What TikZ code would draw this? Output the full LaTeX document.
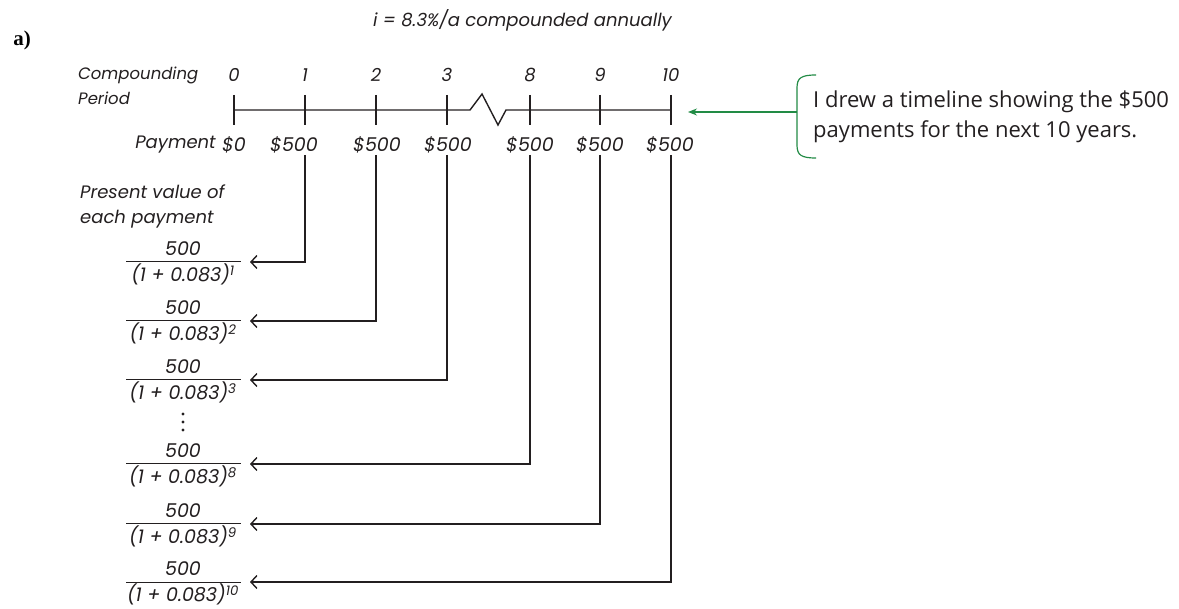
\documentclass[tikz,border=0pt]{standalone}
\usepackage{fontspec}
\setmainfont{Open Sans}
\newfontfamily\hand{Poppins}
\newfontfamily\labelfont{Liberation Serif}
\usetikzlibrary{arrows.meta}
\definecolor{ink}{RGB}{35,31,32}
\definecolor{notegreen}{RGB}{34,139,69}
\tikzset{
  hw/.style={font=\hand\itshape\fontsize{18}{20}\selectfont, text=ink, inner sep=0pt},
  hwsmall/.style={font=\hand\itshape\fontsize{16.5}{19}\selectfont, text=ink, inner sep=0pt},
  hwbig/.style={font=\hand\itshape\fontsize{19}{22}\selectfont, text=ink, inner sep=0pt},
  note/.style={font=\fontsize{22}{30}\selectfont, text=ink, inner sep=0pt, align=left},
  axis/.style={draw=ink, line width=1.4pt},
  link/.style={draw=ink, line width=1.4pt, -{Straight Barb[length=6pt,width=13pt,line width=1.4pt]}},
  bar/.style={draw=ink, line width=1pt},
  callout/.style={draw=notegreen, line width=1.2pt},
}
\begin{document}
\begin{tikzpicture}[x=1pt,y=-1pt]
\useasboundingbox (0,0) rectangle (1179,609);

% part label and rate
\node[font=\labelfont\bfseries\fontsize{21}{24}\selectfont, inner sep=0pt] (part) at (22,40) {a)};
\node[hw, anchor=west] (rate) at (373,20) {i = 8.3\%/a compounded annually};

% row captions
\node[hwsmall, anchor=west] (cp) at (78,75) {Compounding};
\node[hwsmall, anchor=west] (pd) at (78,98) {Period};
\node[hw, anchor=east] (pay) at (216,145) {Payment};
\node[hw, anchor=west] (pv1) at (80,192) {Present value of};
\node[hw, anchor=west] (pv2) at (80,219) {each payment};

% timeline with break
\coordinate (L) at (234,110);
\coordinate (R) at (671,110);
\coordinate (z1) at (470,110);
\coordinate (z2) at (482,94);
\coordinate (z3) at (498,125);
\coordinate (z4) at (506,110);
\draw[axis, line join=miter] (L) -- (z1) -- (z2) -- (z3) -- (z4) -- (R);

% ticks, period numbers and payments
\foreach \x/\n/\p/\px [count=\i] in {234/0/\$0/234, 305/1/\$500/294, 376/2/\$500/377, 447/3/\$500/448, 530/8/\$500/530, 600/9/\$500/600, 671/10/\$500/670}{
  \draw[axis] (\x,95) -- (\x,125);
  \node[hw] (n\i) at (\x,75) {\n};
  \node[hwbig] (p\i) at (\px,145) {\p};
}

% present values with arrows back from each payment
\foreach \x/\y/\e [count=\i] in {305/262/1, 376/321/2, 447/380/3, 530/464/8, 600/524/9, 671/582/10}{
  \node[hwbig] (num\i) at (183,\y-13) {500};
  \node[hwbig] (den\i) at (183,\y+12.5) {(1 + 0.083)\textsuperscript{\e}};
  \draw[bar] (126,\y) -- (241,\y);
  \coordinate (top\i) at (\x,155);
  \coordinate (tip\i) at (250,\y);
  \draw[link] (top\i) |- (tip\i);
}

% vertical ellipsis
\foreach \y/\k in {414/a,422/b,430/c}{
  \fill[ink] (183,\y) circle (1.7pt) coordinate (dot\k);
}

% callout
\coordinate (bt) at (816,75);
\coordinate (bb) at (816,158);
\coordinate (bm) at (797,112);
\coordinate (at) at (688,112);
\draw[callout] (bt) .. controls (801,75) and (797,78) .. (797,88) -- (797,145) .. controls (797,155) and (801,158) .. (bb);
\draw[callout, -{Stealth[length=9pt,width=7pt]}] (bm) -- (at);
\node[note, anchor=west] (txt) at (813,117) {I drew a timeline showing the \$500\\payments for the next 10 years.};
\end{tikzpicture}
\end{document}
